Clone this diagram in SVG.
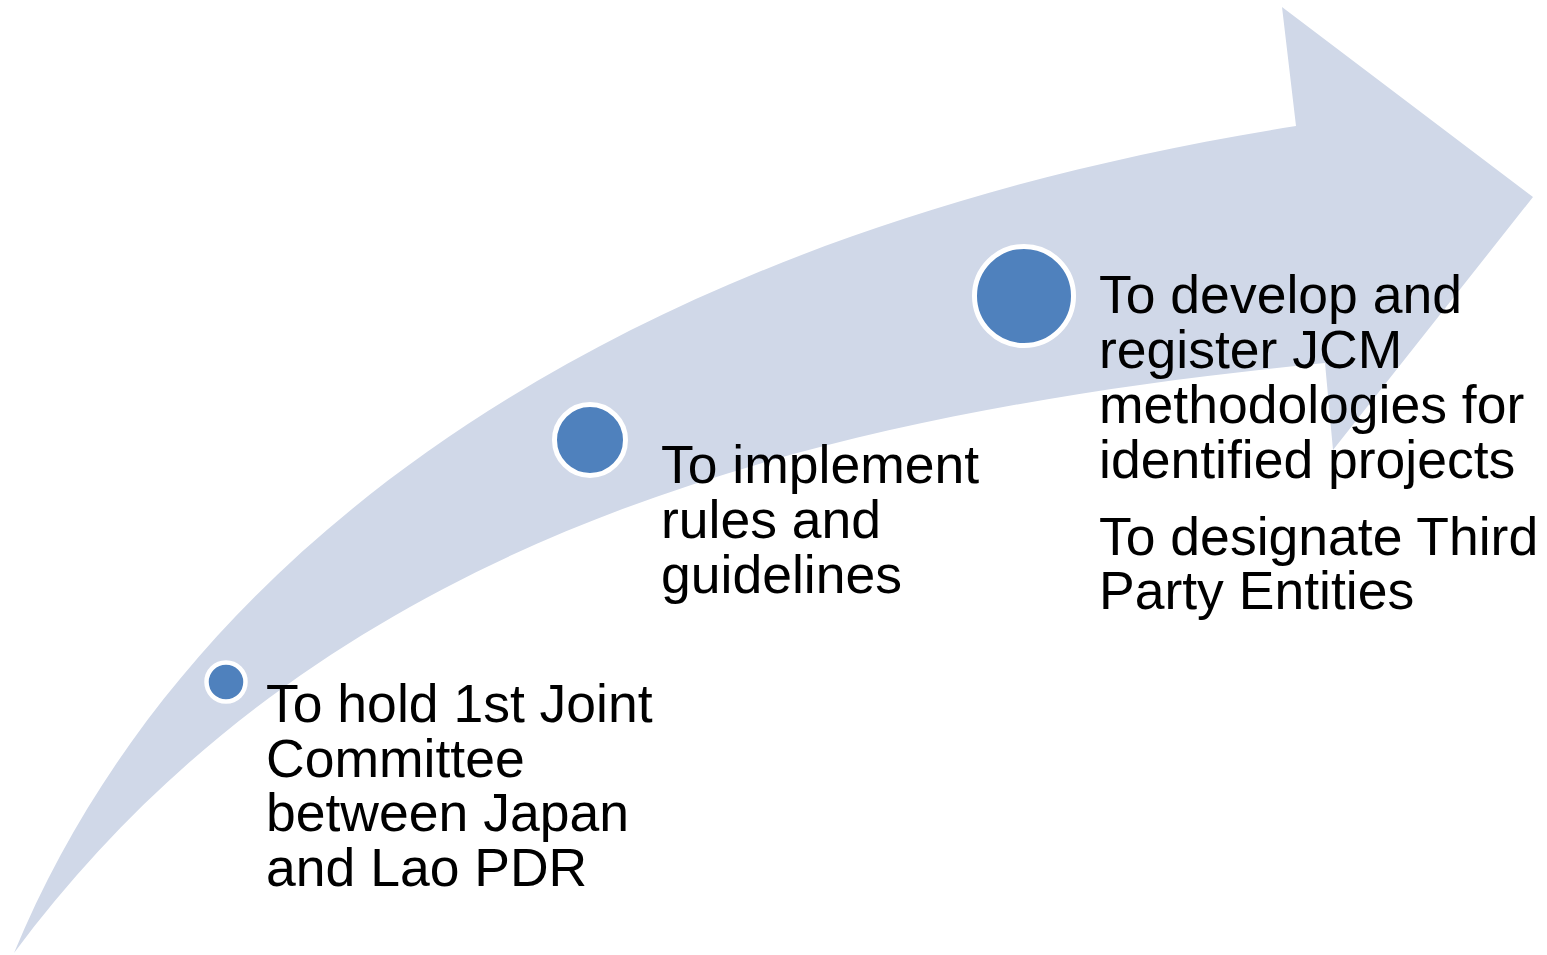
<svg xmlns="http://www.w3.org/2000/svg" width="1547" height="955" viewBox="0 0 1547 955">
<style>
.dot{fill:#4F81BD;stroke:#FFFFFF;stroke-width:5}
.lbl{font-family:"Liberation Sans",Arial,sans-serif;font-size:53.5px;fill:#000000}
</style>
<rect width="1547" height="955" fill="#FFFFFF"/>
<g id="arrow">
<path fill="#D0D8E8" d="M14,953 C185,540 625,232 1296,126 L1282,7 L1533,197 L1333,450 L1325,363 C825,413 330,528 14,953 Z"/>
</g>
<g id="step1">
<circle class="dot" cx="226" cy="682" r="19.5" style="stroke-width:4.5"/>
<text class="lbl"><tspan x="266" y="722">To hold 1st Joint</tspan><tspan x="266" y="776.5">Committee</tspan><tspan x="266" y="831">between Japan</tspan><tspan x="266" y="885.5">and Lao PDR</tspan></text>
</g>
<g id="step2">
<circle class="dot" cx="590" cy="440" r="35.5"/>
<text class="lbl"><tspan x="661" y="483">To implement</tspan><tspan x="661" y="538">rules and</tspan><tspan x="661" y="593">guidelines</tspan></text>
</g>
<g id="step3">
<circle class="dot" cx="1024" cy="296" r="49.5"/>
<text class="lbl"><tspan x="1099" y="313">To develop and</tspan><tspan x="1099" y="368">register JCM</tspan><tspan x="1099" y="423">methodologies for</tspan><tspan x="1099" y="478">identified projects</tspan></text>
<text class="lbl"><tspan x="1099" y="555">To designate Third</tspan><tspan x="1099" y="609">Party Entities</tspan></text>
</g>
</svg>
